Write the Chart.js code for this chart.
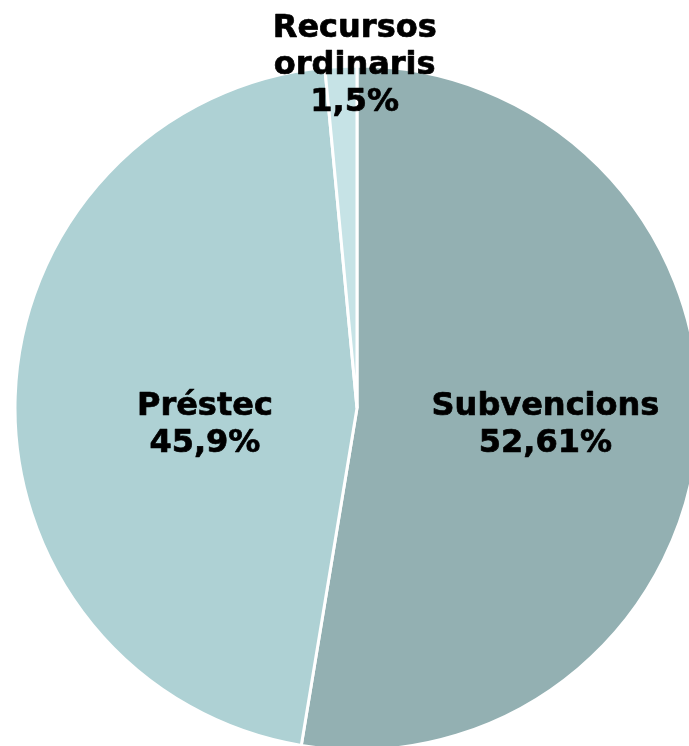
<!DOCTYPE html>
<html>
<head>
<meta charset="utf-8">
<script src="https://cdn.jsdelivr.net/npm/chart.js@4"></script>
<style>
html,body{margin:0;padding:0;background:#fff;}
#wrap{width:689px;height:746px;position:relative;}
</style>
</head>
<body>
<div id="wrap"><canvas id="c" width="689" height="746"></canvas></div>
<script>
const categories = ["Subvencions", "Préstec", "Recursos ordinaris"];
const values = [52.61, 45.9, 1.5];
const valueLabels = ["52,61%", "45,9%", "1,5%"];
const labelLines = [["Subvencions"], ["Préstec"], ["Recursos", "ordinaris"]];
const colors = ["#93B0B2", "#AED1D4", "#C6E3E6"];
const labelDist = [0.55, 0.445, 1.01];
const labelShiftX = [1, 0, 14];
const labelShiftY = [2, 22, 3];

const labelPlugin = {
  id: 'sliceLabels',
  afterDatasetsDraw(chart) {
    const ctx = chart.ctx;
    const meta = chart.getDatasetMeta(0);
    ctx.save();
    ctx.font = 'bold 32px "DejaVu Sans", Verdana, sans-serif';
    ctx.fillStyle = '#000';
    ctx.strokeStyle = '#000';
    ctx.lineWidth = 0.7;
    ctx.lineJoin = 'round';
    ctx.textAlign = 'center';
    ctx.textBaseline = 'middle';
    const lh = 37;
    meta.data.forEach((arc, i) => {
      const p = arc.getProps(['x','y','startAngle','endAngle','outerRadius'], true);
      const mid = (p.startAngle + p.endAngle) / 2;
      const d = p.outerRadius * labelDist[i];
      const cx = p.x + Math.cos(mid) * d + labelShiftX[i];
      const cy = p.y + Math.sin(mid) * d + labelShiftY[i];
      const lines = labelLines[i].concat([valueLabels[i]]);
      const y0 = cy - (lines.length - 1) * lh / 2;
      lines.forEach((t, k) => {
        ctx.fillText(t, cx, y0 + k * lh);
        ctx.strokeText(t, cx, y0 + k * lh);
      });
    });
    ctx.restore();
  }
};

new Chart(document.getElementById('c'), {
  type: 'pie',
  data: {
    labels: categories,
    datasets: [{
      data: values,
      backgroundColor: colors,
      borderColor: '#ffffff',
      borderWidth: 3,
      radius: 342
    }]
  },
  options: {
    responsive: false,
    animation: false,
    layout: { padding: { left: 25, top: 70, right: 0, bottom: 0 } },
    plugins: { legend: { display: false }, tooltip: { enabled: false } }
  },
  plugins: [labelPlugin]
});
</script>
</body>
</html>
